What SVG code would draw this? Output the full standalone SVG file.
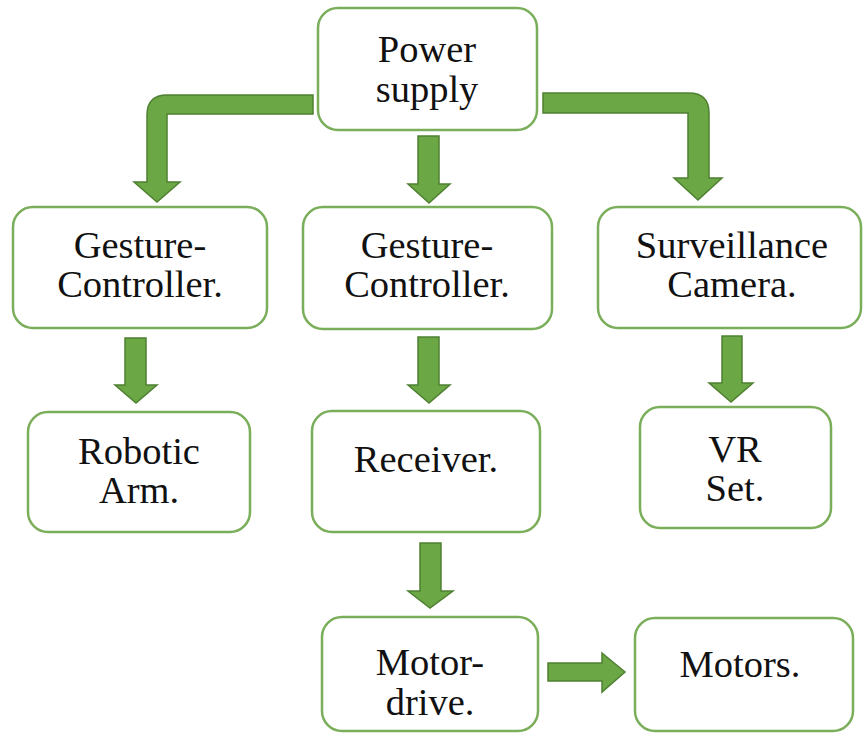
<svg xmlns="http://www.w3.org/2000/svg" width="865" height="733" viewBox="0 0 865 733">
<style>
.box{fill:#ffffff;stroke:#7AAE5A;stroke-width:2.5}
.arr{fill:#6CA745;stroke:#4F8031;stroke-width:1.5;stroke-linejoin:miter}
.t{font-family:'Liberation Serif','Times New Roman',serif;font-size:38.5px;fill:#111;text-anchor:middle}
</style>
<rect width="865" height="733" fill="#ffffff"/>
<g id="connectors">
<path class="arr" d="M313,95 L167,95 Q147,95 147,115 L147,182 L134,182 L157,202 L180,182 L167,182 L167,114 L313,114 Z"/>
<path class="arr" d="M543,93 L689,93 Q709,93 709,113 L709,178 L722,178 L698,200 L674,178 L688,178 L688,113 L543,113 Z"/>
<polygon class="arr" points="418,136 439,136 439,184 450,184 429,203 408,184 418,184"/>
<polygon class="arr" points="125,338 146,338 146,385 157,385 136,403 115,385 125,385"/>
<polygon class="arr" points="418,337 439,337 439,385 450,385 429,403 408,385 418,385"/>
<polygon class="arr" points="722,336 742,336 742,383 753,383 731,402 709,383 722,383"/>
<polygon class="arr" points="420,543 441,543 441,591 453,591 430,608 408,591 420,591"/>
<polygon class="arr" points="548,663 602,663 602,653 625,672 602,692 602,681 548,681"/>
</g>
<g id="power">
<rect class="box" x="318" y="8" width="219" height="122" rx="20"/>
<text class="t" x="427" y="62">Power</text>
<text class="t" x="427" y="102">supply</text>
</g>
<g id="gesture1">
<rect class="box" x="13" y="207" width="254" height="121" rx="20"/>
<text class="t" x="140" y="258">Gesture-</text>
<text class="t" x="140" y="297">Controller.</text>
</g>
<g id="gesture2">
<rect class="box" x="303" y="207" width="249" height="122" rx="20"/>
<text class="t" x="427" y="258">Gesture-</text>
<text class="t" x="427" y="297">Controller.</text>
</g>
<g id="camera">
<rect class="box" x="598" y="207" width="263" height="121" rx="20"/>
<text class="t" x="732" y="258">Surveillance</text>
<text class="t" x="732" y="297">Camera.</text>
</g>
<g id="arm">
<rect class="box" x="28" y="412" width="222" height="120" rx="20"/>
<text class="t" x="139" y="464">Robotic</text>
<text class="t" x="139" y="503">Arm.</text>
</g>
<g id="receiver">
<rect class="box" x="312" y="411" width="228" height="121" rx="20"/>
<text class="t" x="426" y="472">Receiver.</text>
</g>
<g id="vr">
<rect class="box" x="640" y="407" width="191" height="121" rx="20"/>
<text class="t" x="735" y="462">VR</text>
<text class="t" x="735" y="501">Set.</text>
</g>
<g id="motordrive">
<rect class="box" x="322" y="617" width="216" height="114" rx="20"/>
<text class="t" x="430" y="675">Motor-</text>
<text class="t" x="430" y="715">drive.</text>
</g>
<g id="motors">
<rect class="box" x="635" y="618" width="218" height="113" rx="20"/>
<text class="t" x="740" y="677">Motors.</text>
</g>
</svg>
